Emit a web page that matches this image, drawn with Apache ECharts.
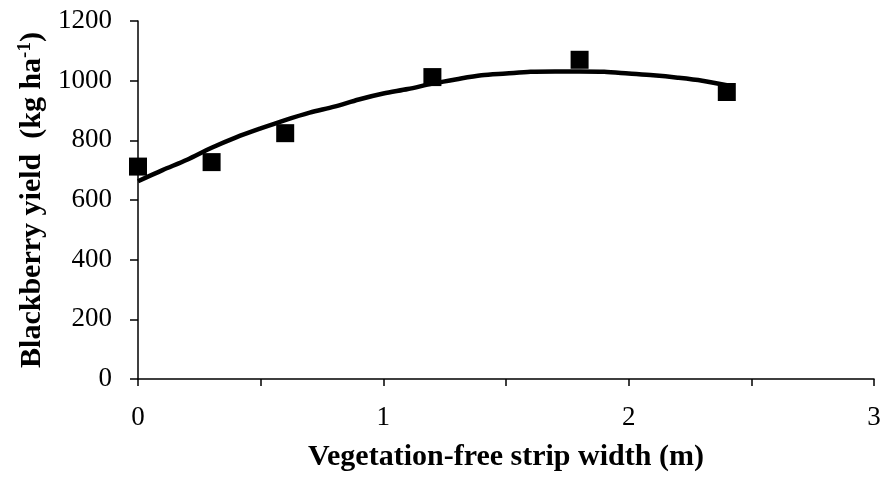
<!DOCTYPE html>
<html>
<head>
<meta charset="utf-8">
<script src="https://cdn.jsdelivr.net/npm/echarts@6/dist/echarts.min.js"></script>
<style>html,body{margin:0;padding:0;background:#fff;}#c{width:884px;height:485px;}</style>
</head>
<body>
<div id="c"></div>
<script>
var pointX = [0, 0.3, 0.6, 1.2, 1.8, 2.4];
var pointY = [712, 727, 824, 1012, 1070, 962];
var curveX = [0, 0.1, 0.2, 0.3, 0.4, 0.5, 0.6, 0.7, 0.8, 0.9, 1.0, 1.1, 1.2, 1.3, 1.4, 1.5, 1.6, 1.7, 1.8, 1.9, 2.0, 2.1, 2.2, 2.3, 2.4];
var curveY = [663, 700, 735, 775, 810, 840, 868, 893, 913, 937, 957, 972, 990, 1005, 1018, 1024, 1030, 1031, 1031, 1030, 1024, 1018, 1010, 1000, 985];
var xTicks = [0, 1, 2, 3];
var yTicks = [0, 200, 400, 600, 800, 1000, 1200];

var chart = echarts.init(document.getElementById('c'), null, {renderer: 'canvas'});
var serif = 'Liberation Serif';
chart.setOption({
  backgroundColor: '#fff',
  animation: false,
  grid: {left: 138, right: 10, top: 21, bottom: 106},
  xAxis: {
    type: 'value', min: 0, max: 3, interval: 0.5,
    name: 'Vegetation-free strip width (m)',
    nameLocation: 'middle', nameGap: 63,
    nameTextStyle: {fontFamily: serif, fontSize: 30, fontWeight: 'bold', color: '#000'},
    axisLine: {show: true, lineStyle: {color: '#000', width: 1.5}},
    axisTick: {show: true, length: 7, lineStyle: {color: '#000', width: 1.5}},
    splitLine: {show: false},
    axisLabel: {
      margin: 25, fontFamily: serif, fontSize: 27, color: '#000',
      formatter: function (v) { return xTicks.indexOf(v) >= 0 ? String(v) : ''; }
    }
  },
  yAxis: {
    type: 'value', min: 0, max: 1200, interval: 200,
    name: '{b|Blackberry yield  (kg ha}{s|-1}{b|)}',
    nameLocation: 'middle', nameGap: 88,
    nameTextStyle: {
      fontFamily: serif, fontSize: 30, fontWeight: 'bold', color: '#000',
      rich: {
        b: {fontFamily: serif, fontSize: 30, fontWeight: 'bold', color: '#000'},
        s: {fontFamily: serif, fontSize: 19, fontWeight: 'bold', color: '#000', verticalAlign: 'top', padding: [0, 0, 14, 0]}
      }
    },
    axisLine: {show: true, lineStyle: {color: '#000', width: 1.5}},
    axisTick: {show: true, length: 8, lineStyle: {color: '#000', width: 1.5}},
    splitLine: {show: false},
    axisLabel: {
      margin: 26, fontFamily: serif, fontSize: 27, color: '#000',
      formatter: function (v) { return yTicks.indexOf(v) >= 0 ? String(v) : ''; }
    }
  },
  series: [
    {
      type: 'line',
      data: curveX.map(function (x, i) { return [x, curveY[i]]; }),
      showSymbol: false, smooth: 0.3,
      lineStyle: {color: '#000', width: 4.5},
      z: 2
    },
    {
      type: 'scatter',
      data: pointX.map(function (x, i) { return [x, pointY[i]]; }),
      symbol: 'rect', symbolSize: 18,
      itemStyle: {color: '#000', opacity: 1},
      z: 3
    }
  ]
});
</script>
</body>
</html>
